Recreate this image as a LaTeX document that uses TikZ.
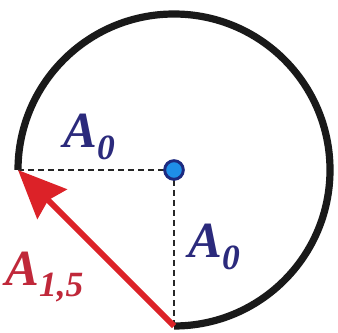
\documentclass[tikz,border=0pt]{standalone}
\usepackage{fontspec}
\setmainfont{Liberation Serif}
\usetikzlibrary{arrows.meta}
\definecolor{navy}{HTML}{2B2A7C}
\definecolor{arrred}{HTML}{DC2228}
\definecolor{lblred}{HTML}{C0283A}
\definecolor{dotblue}{HTML}{1E8FE8}
\definecolor{dotedge}{HTML}{1C2A80}
\tikzset{
  rim/.style={line width=5.4pt, black!90},
  guide/.style={line width=2.1pt, dash pattern=on 4.8pt off 2.7pt, black!85},
  vec/.style={line width=4.5pt, arrred, -{Stealth[length=36pt, width=31pt, inset=4pt]}},
  lbl/.style={font=\fontsize{38}{38}\selectfont\bfseries\itshape, inner sep=0pt},
}
\begin{document}
\begin{tikzpicture}[x=0.75pt, y=0.75pt]
\useasboundingbox (0,0) rectangle (338,332);
\coordinate (C) at (174,162);
\coordinate (L) at (18,162);
\coordinate (B) at (174,6);
\draw[rim] (L) arc[start angle=180, end angle=-90, radius=156];
\draw[guide] (L) -- (C);
\draw[guide] (C) -- (B);
\draw[vec] (B) -- (L);
\node[circle, draw=dotedge, line width=2.2pt, fill=dotblue, minimum size=14pt, inner sep=0pt] (dot) at (C) {};
\node[lbl, text=navy, anchor=base west] (a0top) at (63,185) {A\textsubscript{0}};
\node[lbl, text=navy, anchor=base west] (a0right) at (188,75) {A\textsubscript{0}};
\node[lbl, text=lblred, anchor=base west] (a15) at (5,47) {A\textsubscript{1,5}};
\end{tikzpicture}
\end{document}
